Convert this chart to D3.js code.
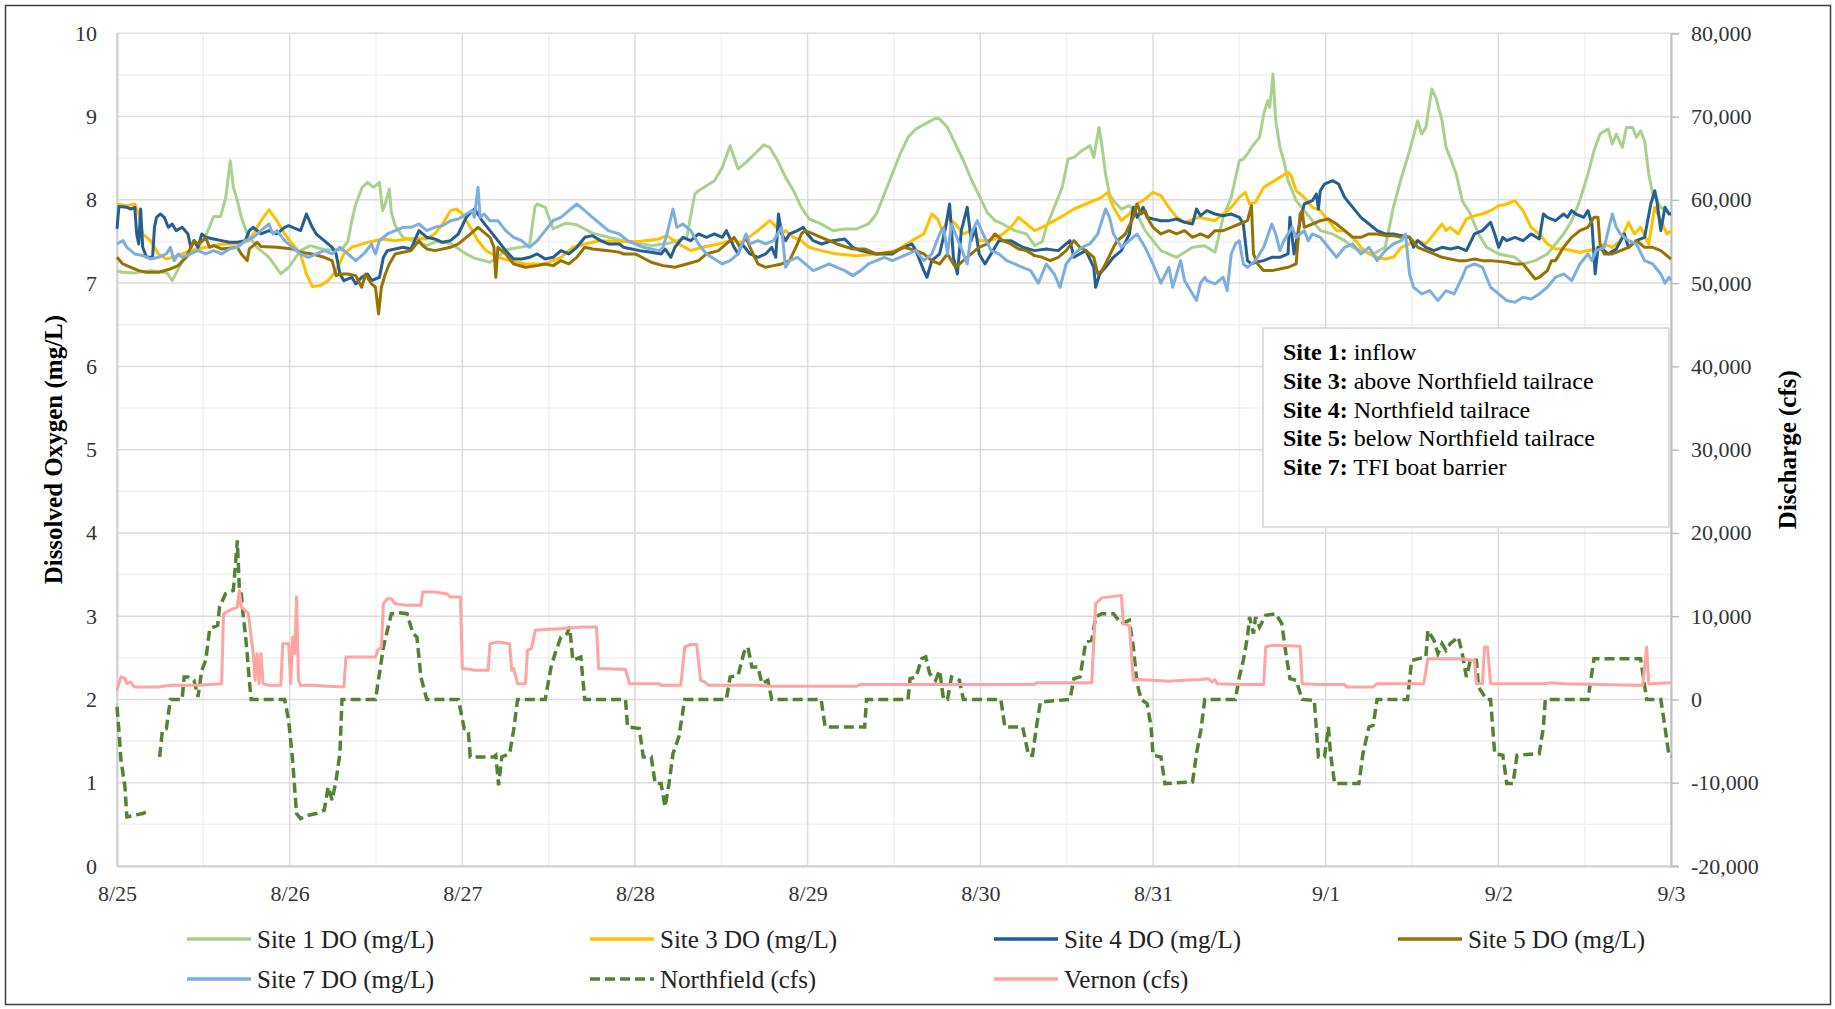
<!DOCTYPE html>
<html><head><meta charset="utf-8">
<script src="https://cdn.jsdelivr.net/npm/d3@7"></script>
<style>
body{margin:0;background:#fff;}
svg{display:block;font-family:"Liberation Serif","Times New Roman",serif;}
svg text{font-family:"Liberation Serif","Times New Roman",serif;}
</style>
</head><body>
<svg id="chart" width="1835" height="1009"></svg>
<script>
// ---------------- DATA ----------------
// x values are days since 8/25 00:00
const dayLabels = ["8/25","8/26","8/27","8/28","8/29","8/30","8/31","9/1","9/2","9/3"];
const doTicks = [0,1,2,3,4,5,6,7,8,9,10];
const cfsTicks = [-20000,-10000,0,10000,20000,30000,40000,50000,60000,70000,80000];

const seriesNames = ["Site 1 DO (mg/L)","Site 3 DO (mg/L)","Site 4 DO (mg/L)","Site 5 DO (mg/L)","Site 7 DO (mg/L)","Northfield (cfs)","Vernon (cfs)"];

const noteLines = [["Site 1:"," inflow"],["Site 3:"," above Northfield tailrace"],["Site 4:"," Northfield tailrace"],["Site 5:"," below Northfield tailrace"],["Site 7:"," TFI boat barrier"]];

const site1 = [[0,7.15],[0.03,7.13],[0.1,7.12],[0.2,7.15],[0.29,7.12],[0.32,7.03],[0.35,7.15],[0.38,7.27],[0.47,7.43],[0.51,7.55],[0.56,7.8],[0.6,7.8],[0.63,8.03],[0.656,8.47],[0.674,8.15],[0.697,7.99],[0.72,7.79],[0.754,7.59],[0.811,7.43],[0.88,7.31],[0.949,7.11],[0.994,7.19],[1.063,7.39],[1.12,7.45],[1.2,7.4],[1.3,7.4],[1.337,7.5],[1.36,7.75],[1.383,7.95],[1.42,8.15],[1.451,8.21],[1.486,8.15],[1.52,8.21],[1.538,7.87],[1.554,7.95],[1.577,8.13],[1.589,7.85],[1.611,7.69],[1.657,7.55],[1.726,7.5],[1.794,7.45],[1.85,7.5],[1.93,7.48],[2.0,7.38],[2.023,7.35],[2.069,7.3],[2.16,7.25],[2.206,7.31],[2.25,7.4],[2.389,7.45],[2.42,7.91],[2.434,7.95],[2.48,7.91],[2.526,7.65],[2.6,7.72],[2.663,7.7],[2.709,7.65],[2.754,7.6],[2.846,7.55],[2.95,7.5],[3.1,7.45],[3.2,7.48],[3.3,7.55],[3.346,8.07],[3.368,8.11],[3.414,8.17],[3.46,8.23],[3.506,8.39],[3.551,8.65],[3.597,8.37],[3.643,8.45],[3.712,8.59],[3.746,8.66],[3.78,8.63],[3.826,8.47],[3.872,8.27],[3.918,8.11],[3.963,7.91],[4.009,7.77],[4.078,7.71],[4.146,7.63],[4.215,7.65],[4.284,7.65],[4.352,7.71],[4.398,7.83],[4.444,8.07],[4.49,8.31],[4.535,8.55],[4.581,8.75],[4.627,8.85],[4.696,8.93],[4.741,8.98],[4.764,8.97],[4.81,8.87],[4.856,8.67],[4.902,8.47],[4.947,8.25],[4.993,8.05],[5.039,7.85],[5.085,7.75],[5.13,7.71],[5.199,7.63],[5.268,7.59],[5.314,7.45],[5.359,7.5],[5.382,7.67],[5.428,7.91],[5.474,8.15],[5.508,8.49],[5.542,8.51],[5.588,8.59],[5.634,8.65],[5.657,8.51],[5.687,8.87],[5.703,8.67],[5.725,8.31],[5.748,8.07],[5.771,7.99],[5.817,7.89],[5.863,7.93],[5.908,7.83],[5.954,7.63],[6.046,7.39],[6.137,7.31],[6.229,7.43],[6.3,7.45],[6.359,7.37],[6.406,7.79],[6.453,8.03],[6.5,8.47],[6.523,8.49],[6.547,8.55],[6.57,8.63],[6.617,8.75],[6.641,9.03],[6.664,9.19],[6.676,9.11],[6.695,9.51],[6.711,8.95],[6.735,8.63],[6.758,8.47],[6.782,8.23],[6.829,7.99],[6.876,7.87],[6.923,7.75],[6.969,7.63],[7.04,7.59],[7.11,7.51],[7.157,7.43],[7.204,7.39],[7.275,7.35],[7.345,7.43],[7.392,7.91],[7.439,8.27],[7.486,8.59],[7.533,8.95],[7.556,8.79],[7.58,8.87],[7.615,9.33],[7.638,9.23],[7.674,8.95],[7.697,8.63],[7.721,8.51],[7.756,8.31],[7.791,7.99],[7.838,7.83],[7.885,7.59],[7.932,7.43],[8.002,7.35],[8.096,7.31],[8.143,7.23],[8.214,7.27],[8.284,7.35],[8.331,7.47],[8.378,7.59],[8.425,7.75],[8.472,7.99],[8.519,8.31],[8.554,8.59],[8.589,8.79],[8.636,8.85],[8.66,8.67],[8.683,8.79],[8.718,8.63],[8.742,8.87],[8.777,8.87],[8.8,8.75],[8.824,8.83],[8.847,8.71],[8.871,8.31],[8.894,8.07],[8.941,7.91],[9.0,7.83]];

const site3 = [[0,7.95],[0.057,7.93],[0.103,7.95],[0.126,7.83],[0.149,7.59],[0.194,7.51],[0.24,7.35],[0.286,7.29],[0.354,7.33],[0.423,7.39],[0.514,7.43],[0.606,7.47],[0.697,7.47],[0.766,7.51],[0.834,7.75],[0.88,7.88],[0.926,7.75],[0.971,7.59],[1.017,7.47],[1.063,7.35],[1.097,7.11],[1.131,6.96],[1.177,6.97],[1.223,7.03],[1.269,7.15],[1.314,7.35],[1.36,7.43],[1.451,7.49],[1.543,7.53],[1.611,7.51],[1.68,7.53],[1.749,7.54],[1.794,7.53],[1.84,7.59],[1.886,7.71],[1.931,7.87],[1.966,7.89],[2.0,7.83],[2.046,7.67],[2.091,7.51],[2.137,7.39],[2.206,7.31],[2.274,7.27],[2.366,7.23],[2.48,7.23],[2.571,7.31],[2.64,7.43],[2.709,7.47],[2.8,7.51],[2.934,7.5],[3.025,7.5],[3.14,7.53],[3.185,7.57],[3.254,7.47],[3.323,7.39],[3.391,7.43],[3.483,7.47],[3.551,7.51],[3.62,7.49],[3.712,7.63],[3.78,7.75],[3.803,7.71],[3.849,7.59],[3.872,7.63],[3.918,7.55],[3.963,7.51],[4.009,7.43],[4.078,7.39],[4.169,7.35],[4.284,7.33],[4.398,7.35],[4.513,7.39],[4.604,7.51],[4.673,7.59],[4.719,7.83],[4.753,7.77],[4.787,7.59],[4.81,7.79],[4.856,7.71],[4.902,7.59],[4.947,7.63],[4.993,7.51],[5.039,7.51],[5.085,7.53],[5.13,7.59],[5.176,7.67],[5.222,7.79],[5.268,7.71],[5.314,7.63],[5.359,7.67],[5.428,7.75],[5.497,7.83],[5.542,7.89],[5.611,7.95],[5.657,7.99],[5.703,8.03],[5.737,8.09],[5.771,7.91],[5.817,7.75],[5.863,7.83],[5.908,7.95],[5.954,8.01],[6.0,8.09],[6.046,8.05],[6.092,7.91],[6.137,7.79],[6.183,7.73],[6.265,7.79],[6.359,7.75],[6.406,7.83],[6.453,7.91],[6.5,8.03],[6.535,8.09],[6.559,7.95],[6.594,7.97],[6.641,8.15],[6.688,8.21],[6.735,8.27],[6.782,8.33],[6.8,8.29],[6.829,8.11],[6.876,8.03],[6.923,7.91],[6.969,7.87],[7.016,7.75],[7.063,7.63],[7.11,7.63],[7.157,7.55],[7.204,7.43],[7.251,7.35],[7.298,7.31],[7.345,7.29],[7.392,7.31],[7.439,7.43],[7.486,7.47],[7.533,7.51],[7.58,7.47],[7.627,7.59],[7.674,7.71],[7.697,7.63],[7.721,7.67],[7.768,7.59],[7.815,7.77],[7.862,7.81],[7.908,7.83],[7.955,7.87],[8.002,7.93],[8.049,7.95],[8.096,7.99],[8.143,7.87],[8.19,7.67],[8.237,7.59],[8.284,7.47],[8.331,7.41],[8.378,7.41],[8.472,7.37],[8.566,7.41],[8.613,7.47],[8.66,7.43],[8.707,7.51],[8.754,7.73],[8.789,7.59],[8.824,7.67],[8.871,7.47],[8.906,7.91],[8.941,7.75],[8.977,7.59],[9.0,7.63]];

const site4 = [[0,7.65],[0.011,7.92],[0.057,7.91],[0.08,7.89],[0.103,7.91],[0.114,7.59],[0.126,7.47],[0.137,7.89],[0.149,7.43],[0.171,7.31],[0.206,7.31],[0.217,7.67],[0.229,7.79],[0.251,7.83],[0.274,7.79],[0.297,7.67],[0.32,7.71],[0.343,7.63],[0.377,7.67],[0.411,7.59],[0.427,7.43],[0.446,7.51],[0.469,7.43],[0.491,7.59],[0.514,7.55],[0.56,7.53],[0.606,7.51],[0.651,7.49],[0.697,7.49],[0.743,7.51],[0.766,7.63],[0.789,7.67],[0.834,7.59],[0.88,7.63],[0.926,7.59],[0.971,7.67],[0.994,7.69],[1.017,7.67],[1.063,7.63],[1.097,7.83],[1.131,7.67],[1.154,7.59],[1.177,7.55],[1.2,7.51],[1.246,7.43],[1.269,7.35],[1.291,7.11],[1.314,7.03],[1.36,7.07],[1.383,6.99],[1.417,7.07],[1.451,7.11],[1.474,7.03],[1.497,7.05],[1.52,7.07],[1.543,7.31],[1.566,7.39],[1.611,7.41],[1.657,7.43],[1.703,7.41],[1.749,7.63],[1.794,7.55],[1.84,7.53],[1.886,7.49],[1.931,7.51],[1.977,7.59],[2.023,7.79],[2.069,7.89],[2.091,7.83],[2.114,7.75],[2.16,7.63],[2.206,7.51],[2.251,7.39],[2.297,7.29],[2.343,7.29],[2.389,7.31],[2.434,7.35],[2.48,7.29],[2.526,7.31],[2.571,7.39],[2.617,7.35],[2.663,7.43],[2.709,7.55],[2.754,7.57],[2.8,7.51],[2.846,7.47],[2.91,7.47],[2.934,7.43],[3.025,7.39],[3.094,7.37],[3.151,7.35],[3.174,7.41],[3.208,7.31],[3.231,7.43],[3.277,7.55],[3.323,7.51],[3.368,7.59],[3.414,7.55],[3.46,7.59],[3.506,7.55],[3.529,7.63],[3.574,7.43],[3.597,7.35],[3.62,7.47],[3.666,7.35],[3.712,7.31],[3.757,7.35],[3.792,7.43],[3.815,7.31],[3.831,7.83],[3.849,7.59],[3.872,7.51],[3.895,7.59],[3.941,7.63],[3.975,7.67],[3.998,7.59],[4.032,7.51],[4.078,7.47],[4.146,7.51],[4.215,7.53],[4.261,7.43],[4.307,7.39],[4.398,7.35],[4.49,7.35],[4.535,7.41],[4.604,7.47],[4.627,7.39],[4.65,7.27],[4.673,7.15],[4.691,7.07],[4.719,7.27],[4.764,7.35],[4.799,7.67],[4.822,7.95],[4.844,7.31],[4.867,7.11],[4.89,7.63],[4.924,7.91],[4.947,7.51],[4.97,7.67],[4.993,7.35],[5.027,7.23],[5.062,7.35],[5.108,7.51],[5.176,7.51],[5.245,7.43],[5.314,7.39],[5.382,7.41],[5.451,7.39],[5.519,7.51],[5.542,7.31],[5.611,7.39],[5.657,7.19],[5.668,6.95],[5.691,7.11],[5.725,7.19],[5.771,7.31],[5.817,7.39],[5.863,7.59],[5.886,7.91],[5.908,7.79],[5.943,7.91],[5.966,7.79],[6.0,7.77],[6.046,7.75],[6.092,7.75],[6.137,7.77],[6.183,7.73],[6.229,7.71],[6.252,7.89],[6.275,7.81],[6.312,7.87],[6.359,7.83],[6.406,7.81],[6.453,7.83],[6.5,7.79],[6.523,7.71],[6.547,7.27],[6.57,7.23],[6.594,7.25],[6.641,7.27],[6.688,7.31],[6.735,7.31],[6.782,7.35],[6.793,7.79],[6.817,7.35],[6.852,7.75],[6.876,7.95],[6.923,7.99],[6.946,8.07],[6.958,7.89],[6.969,8.11],[6.993,8.19],[7.04,8.23],[7.075,8.19],[7.11,8.03],[7.157,7.91],[7.204,7.79],[7.251,7.71],[7.298,7.63],[7.345,7.59],[7.392,7.59],[7.439,7.57],[7.486,7.55],[7.509,7.43],[7.533,7.51],[7.58,7.43],[7.627,7.39],[7.674,7.43],[7.721,7.41],[7.768,7.43],[7.815,7.39],[7.862,7.59],[7.908,7.63],[7.955,7.73],[7.979,7.59],[8.002,7.43],[8.026,7.55],[8.049,7.51],[8.096,7.55],[8.143,7.51],[8.19,7.59],[8.237,7.53],[8.261,7.83],[8.284,7.79],[8.331,7.75],[8.378,7.83],[8.401,7.79],[8.425,7.87],[8.448,7.83],[8.495,7.79],[8.519,7.87],[8.542,7.71],[8.561,7.11],[8.577,7.43],[8.613,7.39],[8.636,7.35],[8.683,7.41],[8.73,7.59],[8.754,7.43],[8.8,7.51],[8.847,7.55],[8.883,7.95],[8.906,8.11],[8.918,7.99],[8.941,7.63],[8.965,7.91],[8.988,7.83],[9.0,7.83]];

const site5 = [[0,7.31],[0.034,7.23],[0.08,7.19],[0.126,7.15],[0.171,7.13],[0.24,7.13],[0.309,7.17],[0.354,7.21],[0.4,7.31],[0.423,7.41],[0.446,7.51],[0.469,7.47],[0.514,7.54],[0.537,7.43],[0.56,7.45],[0.606,7.41],[0.697,7.43],[0.72,7.35],[0.754,7.27],[0.766,7.41],[0.789,7.45],[0.811,7.49],[0.834,7.44],[0.926,7.43],[1.017,7.41],[1.063,7.37],[1.131,7.35],[1.2,7.31],[1.246,7.27],[1.269,7.09],[1.291,7.11],[1.337,7.11],[1.383,7.09],[1.417,6.95],[1.44,7.11],[1.474,6.99],[1.497,6.95],[1.515,6.63],[1.531,6.95],[1.554,7.11],[1.577,7.23],[1.611,7.35],[1.657,7.37],[1.703,7.39],[1.749,7.51],[1.771,7.45],[1.794,7.41],[1.84,7.39],[1.886,7.41],[1.931,7.43],[1.977,7.47],[2.023,7.55],[2.069,7.63],[2.091,7.67],[2.114,7.63],[2.16,7.55],[2.183,7.43],[2.194,7.07],[2.206,7.43],[2.251,7.35],[2.297,7.23],[2.366,7.19],[2.434,7.21],[2.48,7.23],[2.526,7.21],[2.571,7.27],[2.617,7.23],[2.663,7.31],[2.709,7.43],[2.754,7.41],[2.846,7.39],[2.91,7.37],[2.934,7.35],[3.002,7.35],[3.094,7.25],[3.162,7.21],[3.231,7.19],[3.3,7.23],[3.368,7.27],[3.414,7.35],[3.483,7.39],[3.529,7.47],[3.574,7.55],[3.609,7.43],[3.643,7.55],[3.666,7.43],[3.712,7.23],[3.757,7.19],[3.803,7.21],[3.849,7.23],[3.895,7.27],[3.941,7.47],[3.963,7.59],[3.986,7.63],[4.032,7.59],[4.078,7.55],[4.124,7.51],[4.169,7.47],[4.261,7.41],[4.33,7.41],[4.398,7.35],[4.49,7.37],[4.558,7.43],[4.627,7.39],[4.673,7.35],[4.719,7.27],[4.764,7.23],[4.81,7.35],[4.856,7.19],[4.902,7.27],[4.947,7.35],[4.993,7.43],[5.039,7.47],[5.085,7.59],[5.13,7.51],[5.176,7.47],[5.222,7.41],[5.268,7.39],[5.314,7.33],[5.359,7.31],[5.405,7.27],[5.451,7.31],[5.497,7.39],[5.542,7.51],[5.577,7.43],[5.611,7.39],[5.657,7.31],[5.68,7.11],[5.703,7.15],[5.725,7.23],[5.771,7.43],[5.794,7.51],[5.84,7.59],[5.886,7.79],[5.908,7.95],[5.931,7.83],[5.954,7.87],[5.977,7.75],[6.0,7.67],[6.046,7.59],[6.092,7.63],[6.137,7.59],[6.183,7.63],[6.229,7.55],[6.275,7.59],[6.32,7.55],[6.359,7.63],[6.406,7.63],[6.453,7.67],[6.5,7.71],[6.547,7.75],[6.57,7.93],[6.582,7.35],[6.606,7.23],[6.641,7.15],[6.688,7.15],[6.735,7.17],[6.782,7.19],[6.829,7.23],[6.852,7.83],[6.864,7.87],[6.876,7.67],[6.923,7.71],[6.969,7.75],[7.016,7.77],[7.063,7.71],[7.11,7.63],[7.157,7.55],[7.204,7.55],[7.251,7.59],[7.298,7.59],[7.345,7.57],[7.392,7.57],[7.439,7.55],[7.486,7.55],[7.533,7.43],[7.58,7.39],[7.627,7.35],[7.674,7.31],[7.721,7.29],[7.768,7.27],[7.815,7.27],[7.862,7.29],[7.908,7.27],[7.955,7.27],[8.049,7.25],[8.096,7.23],[8.143,7.23],[8.19,7.11],[8.214,7.05],[8.237,7.07],[8.284,7.15],[8.308,7.27],[8.331,7.27],[8.378,7.43],[8.425,7.55],[8.472,7.63],[8.519,7.67],[8.554,7.79],[8.577,7.79],[8.589,7.47],[8.613,7.35],[8.66,7.35],[8.707,7.39],[8.754,7.43],[8.8,7.51],[8.847,7.43],[8.894,7.43],[8.941,7.39],[8.988,7.31],[9.0,7.29]];

const site7 = [[0,7.47],[0.034,7.51],[0.057,7.43],[0.103,7.35],[0.149,7.33],[0.194,7.29],[0.24,7.31],[0.286,7.35],[0.309,7.43],[0.331,7.27],[0.354,7.35],[0.377,7.31],[0.423,7.35],[0.469,7.39],[0.514,7.35],[0.56,7.39],[0.606,7.35],[0.651,7.41],[0.697,7.43],[0.743,7.51],[0.789,7.55],[0.834,7.63],[0.88,7.71],[0.903,7.59],[0.926,7.63],[0.971,7.51],[1.017,7.43],[1.063,7.35],[1.109,7.31],[1.154,7.35],[1.2,7.39],[1.246,7.35],[1.291,7.43],[1.337,7.35],[1.383,7.27],[1.429,7.35],[1.474,7.47],[1.497,7.35],[1.52,7.51],[1.566,7.59],[1.611,7.63],[1.657,7.67],[1.703,7.67],[1.749,7.71],[1.794,7.63],[1.84,7.67],[1.886,7.69],[1.931,7.75],[1.977,7.77],[2.023,7.83],[2.057,7.87],[2.069,7.79],[2.091,8.15],[2.103,7.79],[2.126,7.83],[2.16,7.75],[2.206,7.75],[2.251,7.63],[2.297,7.55],[2.343,7.51],[2.389,7.43],[2.434,7.51],[2.48,7.63],[2.526,7.75],[2.571,7.79],[2.617,7.87],[2.663,7.95],[2.709,7.87],[2.754,7.79],[2.8,7.71],[2.846,7.63],[2.91,7.59],[2.934,7.55],[2.957,7.51],[3.0,7.47],[3.048,7.43],[3.094,7.41],[3.14,7.39],[3.162,7.43],[3.185,7.59],[3.22,7.89],[3.243,7.67],[3.277,7.71],[3.323,7.63],[3.368,7.47],[3.414,7.35],[3.46,7.29],[3.506,7.23],[3.551,7.27],[3.597,7.35],[3.643,7.59],[3.666,7.47],[3.712,7.51],[3.757,7.47],[3.803,7.51],[3.849,7.67],[3.872,7.19],[3.895,7.27],[3.941,7.31],[3.986,7.23],[4.032,7.15],[4.078,7.19],[4.124,7.23],[4.169,7.19],[4.215,7.15],[4.261,7.09],[4.307,7.15],[4.352,7.23],[4.398,7.27],[4.444,7.31],[4.49,7.27],[4.535,7.31],[4.581,7.35],[4.627,7.39],[4.673,7.27],[4.719,7.35],[4.764,7.59],[4.787,7.67],[4.81,7.35],[4.833,7.71],[4.856,7.59],[4.902,7.35],[4.924,7.23],[4.947,7.59],[4.982,7.75],[5.016,7.59],[5.062,7.39],[5.108,7.35],[5.153,7.27],[5.199,7.23],[5.245,7.19],[5.291,7.15],[5.336,7.0],[5.382,7.23],[5.428,7.11],[5.462,6.95],[5.497,7.23],[5.542,7.35],[5.588,7.43],[5.634,7.47],[5.68,7.59],[5.725,7.89],[5.748,7.79],[5.771,7.59],[5.817,7.43],[5.863,7.51],[5.908,7.59],[5.954,7.43],[6.0,7.23],[6.046,7.0],[6.092,7.19],[6.114,6.95],[6.16,7.27],[6.183,7.03],[6.229,6.87],[6.252,6.79],[6.275,7.0],[6.3,7.07],[6.312,7.03],[6.359,6.99],[6.406,7.07],[6.43,6.91],[6.453,7.35],[6.477,7.47],[6.5,7.51],[6.523,7.23],[6.547,7.19],[6.594,7.27],[6.641,7.43],[6.688,7.71],[6.711,7.59],[6.735,7.39],[6.758,7.51],[6.782,7.59],[6.805,7.67],[6.829,7.55],[6.852,7.59],[6.876,7.63],[6.899,7.51],[6.923,7.59],[6.969,7.55],[7.016,7.43],[7.063,7.31],[7.11,7.43],[7.157,7.47],[7.204,7.35],[7.251,7.43],[7.298,7.27],[7.345,7.39],[7.392,7.47],[7.439,7.51],[7.462,7.59],[7.486,7.11],[7.509,6.95],[7.556,6.87],[7.603,6.91],[7.65,6.79],[7.697,6.91],[7.744,6.87],[7.791,7.07],[7.815,7.19],[7.862,7.23],[7.908,7.19],[7.955,6.95],[8.002,6.87],[8.049,6.79],[8.096,6.77],[8.143,6.83],[8.19,6.81],[8.237,6.87],[8.284,6.95],[8.331,7.07],[8.378,7.11],[8.425,7.03],[8.472,7.23],[8.519,7.35],[8.542,7.27],[8.566,7.39],[8.613,7.43],[8.66,7.83],[8.683,7.67],[8.707,7.59],[8.754,7.51],[8.8,7.47],[8.847,7.27],[8.894,7.23],[8.941,7.11],[8.965,7.0],[8.988,7.07],[9.0,7.03]];

// null marks a gap in the record
const northfield = [[0,-900],[0.011,-3700],[0.023,-7300],[0.046,-10500],[0.057,-14100],[0.103,-13900],[0.149,-13700],[0.171,-13500],[0.2,null],[0.247,-6900],[0.263,-3700],[0.286,-3500],[0.309,0],[0.377,0],[0.389,2700],[0.411,2700],[0.446,2300],[0.469,300],[0.491,3500],[0.514,4700],[0.537,8500],[0.583,8900],[0.594,11100],[0.629,12700],[0.674,13100],[0.697,19100],[0.709,13100],[0.72,12700],[0.731,10000],[0.743,7900],[0.754,5500],[0.766,2300],[0.777,0],[0.971,0],[0.994,-2500],[1.017,-7300],[1.04,-13700],[1.063,-14300],[1.109,-13900],[1.154,-13700],[1.2,-13300],[1.223,-10500],[1.246,-12100],[1.269,-9700],[1.291,-6500],[1.303,0],[1.497,0],[1.52,3100],[1.543,6300],[1.589,10300],[1.634,10400],[1.68,10300],[1.714,7900],[1.737,7500],[1.76,2700],[1.794,0],[1.977,0],[2.011,-3500],[2.034,-3700],[2.046,-6900],[2.183,-6900],[2.194,-6700],[2.21,-10300],[2.229,-6900],[2.274,-6500],[2.297,-3700],[2.32,0],[2.48,0],[2.514,3900],[2.537,5500],[2.571,7500],[2.606,7900],[2.622,8700],[2.64,4700],[2.686,5100],[2.709,0],[2.945,0],[2.957,-3300],[3.025,-3500],[3.048,-6900],[3.094,-6900],[3.117,-10100],[3.151,-10100],[3.174,-12900],[3.197,-10100],[3.22,-6500],[3.254,-4500],[3.288,0],[3.529,0],[3.551,2700],[3.597,2900],[3.632,5700],[3.654,6300],[3.677,3900],[3.712,3900],[3.735,1900],[3.769,2300],[3.792,0],[4.078,0],[4.101,-3300],[4.33,-3300],[4.341,0],[4.581,0],[4.593,2500],[4.627,2700],[4.661,4900],[4.684,5100],[4.707,3100],[4.741,2300],[4.764,3500],[4.787,0],[4.81,0],[4.833,2700],[4.879,2300],[4.902,0],[5.119,0],[5.142,-3300],[5.245,-3300],[5.279,-6700],[5.302,-6700],[5.325,-3300],[5.348,-300],[5.519,0],[5.542,2500],[5.577,2700],[5.611,6900],[5.645,7100],[5.668,9900],[5.703,10300],[5.771,10300],[5.817,9100],[5.863,9500],[5.886,6300],[5.908,1900],[5.931,0],[5.966,-500],[5.989,-3300],[6.0,-6700],[6.046,-6900],[6.069,-10100],[6.229,-9900],[6.252,-6500],[6.277,-3700],[6.3,0],[6.477,0],[6.5,2700],[6.523,4700],[6.547,7500],[6.559,9900],[6.582,7900],[6.594,9900],[6.617,8700],[6.653,10100],[6.711,10300],[6.746,9100],[6.77,5500],[6.793,2500],[6.829,2300],[6.864,0],[6.934,-100],[6.958,-6900],[6.993,-6900],[7.016,-3300],[7.028,-6500],[7.052,-10100],[7.192,-10100],[7.216,-6500],[7.251,-3300],[7.275,-3100],[7.298,0],[7.474,0],[7.498,4700],[7.58,5100],[7.592,8300],[7.627,7100],[7.65,5500],[7.674,6700],[7.697,5900],[7.721,6700],[7.768,7500],[7.791,5500],[7.815,2700],[7.838,4700],[7.873,4700],[7.885,1500],[7.932,0],[7.955,0],[7.979,-6500],[8.026,-6700],[8.049,-10100],[8.085,-10100],[8.108,-6700],[8.237,-6500],[8.261,-3300],[8.272,0],[8.519,0],[8.554,4900],[8.824,4900],[8.859,0],[8.941,0],[8.965,-3300],[8.988,-6700],[9.0,-6900]];

const vernon = [[0,1100],[0.011,1900],[0.023,2700],[0.046,2500],[0.057,1900],[0.08,2100],[0.091,1700],[0.103,1500],[0.24,1500],[0.309,1700],[0.469,1700],[0.606,1900],[0.617,10300],[0.651,10700],[0.697,11100],[0.709,13100],[0.72,11100],[0.743,10700],[0.761,10300],[0.777,7500],[0.789,5500],[0.8,2300],[0.811,5500],[0.823,1900],[0.834,5500],[0.846,1900],[0.88,1700],[0.949,1700],[0.96,6700],[0.994,6700],[1.006,1900],[1.017,7500],[1.029,5500],[1.04,12300],[1.051,2300],[1.063,1700],[1.131,1700],[1.223,1600],[1.314,1500],[1.326,5100],[1.383,5100],[1.497,5100],[1.509,5900],[1.531,6300],[1.543,11500],[1.566,12100],[1.589,12100],[1.611,11500],[1.68,11300],[1.76,11300],[1.771,12900],[1.84,12900],[1.909,12700],[1.931,12300],[1.989,12300],[2.0,3700],[2.023,3700],[2.069,3500],[2.149,3500],[2.16,6700],[2.206,6900],[2.274,6700],[2.286,3500],[2.297,3700],[2.32,1900],[2.366,1900],[2.377,5900],[2.4,6100],[2.423,8300],[2.48,8400],[2.571,8500],[2.64,8600],[2.709,8700],[2.777,8700],[2.789,3700],[2.846,3700],[2.945,3600],[2.968,1900],[3.14,1900],[3.151,1700],[3.265,1700],[3.288,6300],[3.323,6600],[3.357,6600],[3.38,2300],[3.403,2100],[3.426,1700],[3.712,1700],[3.78,1600],[3.803,1600],[4.284,1600],[4.307,1800],[4.627,1800],[5.085,1800],[5.314,1800],[5.325,2000],[5.645,2000],[5.668,11500],[5.703,12200],[5.817,12500],[5.828,9100],[5.863,8900],[5.886,2300],[5.908,2400],[6.0,2300],[6.092,2200],[6.183,2300],[6.275,2400],[6.32,2500],[6.343,2100],[6.359,2400],[6.371,1900],[6.5,1800],[6.641,1800],[6.653,6300],[6.688,6500],[6.852,6400],[6.864,1900],[6.969,1800],[7.11,1800],[7.122,1500],[7.275,1500],[7.298,1900],[7.568,1900],[7.592,4900],[7.674,4900],[7.768,4900],[7.862,4700],[7.873,1900],[7.908,1900],[7.92,6300],[7.937,6300],[7.955,1900],[8.261,1900],[8.308,2000],[8.378,1900],[8.8,1700],[8.836,1700],[8.859,6300],[8.871,1900],[9.0,2000]];

// ---------------- DRAWING ----------------
const FONT = "'Liberation Serif','Times New Roman',serif";
const svg = d3.select("#chart");
const X0 = 117, X1 = 1671, Y0 = 866, Y1 = 33.3;
const x = d3.scaleLinear().domain([0, 9]).range([X0, X1]);
const yL = d3.scaleLinear().domain([0, 10]).range([Y0, Y1]);
const yR = d3.scaleLinear().domain([-20000, 80000]).range([Y0, Y1]);

svg.append("rect").attr("x",0).attr("y",0).attr("width",1835).attr("height",1009).attr("fill","#fff");
svg.append("rect").attr("x",5.5).attr("y",5.5).attr("width",1825).attr("height",999)
  .attr("fill","none").attr("stroke","#3f3f3f").attr("stroke-width",1.5);

// gridlines
const grid = svg.append("g");
const minorY = d3.range(0.5, 10, 1);
const minorX = d3.range(0.5, 9, 1);
grid.selectAll(".mny").data(minorY).join("line")
  .attr("x1",X0).attr("x2",X1).attr("y1",d=>yL(d)).attr("y2",d=>yL(d))
  .attr("stroke","#f0f0f0").attr("stroke-width",1.5);
grid.selectAll(".mnx").data(minorX).join("line")
  .attr("y1",Y1).attr("y2",Y0).attr("x1",d=>x(d)).attr("x2",d=>x(d))
  .attr("stroke","#f0f0f0").attr("stroke-width",1.5);
grid.selectAll(".mjy").data(doTicks).join("line")
  .attr("x1",X0).attr("x2",X1).attr("y1",d=>yL(d)).attr("y2",d=>yL(d))
  .attr("stroke","#dcdcdc").attr("stroke-width",1.5);
grid.selectAll(".mjx").data(d3.range(0,10)).join("line")
  .attr("y1",Y1).attr("y2",Y0).attr("x1",d=>x(d)).attr("x2",d=>x(d))
  .attr("stroke","#dcdcdc").attr("stroke-width",1.5);

// axes
const fmt = d => d3.format(",")(d).replace("\u2212","-");
const axL = svg.append("g").attr("transform",`translate(${X0},0)`)
  .call(d3.axisLeft(yL).tickValues(doTicks).tickSize(0).tickPadding(20));
const axR = svg.append("g").attr("transform",`translate(${X1},0)`)
  .call(d3.axisRight(yR).tickValues(cfsTicks).tickSize(8).tickPadding(12).tickFormat(fmt));
const axB = svg.append("g").attr("transform",`translate(0,${Y0})`)
  .call(d3.axisBottom(x).tickValues(d3.range(0,10)).tickSize(0).tickPadding(19).tickFormat((d,i)=>dayLabels[i]));
[axL, axR, axB].forEach(a => {
  a.attr("font-family", FONT);
  a.selectAll("text").attr("font-size",22).attr("fill","#333").attr("font-family",FONT);
  a.select(".domain").attr("stroke","#d0d0d0").attr("stroke-width",2);
  a.selectAll(".tick line").attr("stroke","#bfbfbf").attr("stroke-width",1.5);
});
axR.select(".domain").attr("stroke","#bfbfbf");

// axis titles
svg.append("text").attr("transform",`translate(53,${(Y0+Y1)/2}) rotate(-90)`)
  .attr("text-anchor","middle").attr("dominant-baseline","central").attr("font-family",FONT)
  .attr("font-size",25).attr("font-weight","bold").attr("fill","#000")
  .text("Dissolved Oxygen (mg/L)");
svg.append("text").attr("transform",`translate(1787,${(Y0+Y1)/2}) rotate(-90)`)
  .attr("text-anchor","middle").attr("dominant-baseline","central").attr("font-family",FONT)
  .attr("font-size",25).attr("font-weight","bold").attr("fill","#000")
  .text("Discharge (cfs)");

// series
const colors = ["#a9d18e","#ffc000","#255e91","#987200","#7daee0","#548235","#ffa3a3"];
const lineL = d3.line().x(d=>x(d[0])).y(d=>yL(d[1]));
const lineR = d3.line().defined(d=>d[1]!==null).x(d=>x(d[0])).y(d=>yR(d[1]));
const doSeries = [site1, site3, site4, site5, site7];
const plot = svg.append("g");
doSeries.forEach((s,i)=>{
  plot.append("path").datum(s).attr("d",lineL).attr("fill","none")
    .attr("stroke",colors[i]).attr("stroke-width",3).attr("stroke-linejoin","round");
});
plot.append("path").datum(northfield).attr("d",lineR).attr("fill","none")
  .attr("stroke",colors[5]).attr("stroke-width",3.5).attr("stroke-dasharray","10,5");
plot.append("path").datum(vernon).attr("d",lineR).attr("fill","none")
  .attr("stroke",colors[6]).attr("stroke-width",3).attr("stroke-linejoin","round");

// note box
const box = svg.append("g");
box.append("rect").attr("x",1263).attr("y",328).attr("width",406).attr("height",199)
  .attr("fill","#fff").attr("stroke","#d4d4d4").attr("stroke-width",1.5);
noteLines.forEach((l,i)=>{
  const t = box.append("text").attr("x",1283).attr("y",360 + i*28.75).attr("font-family",FONT)
    .attr("font-size",24).attr("fill","#000");
  t.append("tspan").attr("font-weight","bold").text(l[0]);
  t.append("tspan").text(l[1]);
});

// legend
const legCols = [187, 590, 994, 1398];
const legRows = [939, 979];
const leg = svg.append("g");
seriesNames.forEach((n,i)=>{
  const cx = legCols[i % 4], cy = legRows[Math.floor(i / 4)];
  leg.append("line").attr("x1",cx).attr("x2",cx+64).attr("y1",cy).attr("y2",cy)
    .attr("stroke",colors[i]).attr("stroke-width",3.5)
    .attr("stroke-dasharray", i===5 ? "10,5" : null);
  leg.append("text").attr("x",cx+70).attr("y",cy).attr("dominant-baseline","central")
    .attr("font-family",FONT).attr("font-size",25).attr("fill","#222").text(n);
});
</script>
</body></html>
